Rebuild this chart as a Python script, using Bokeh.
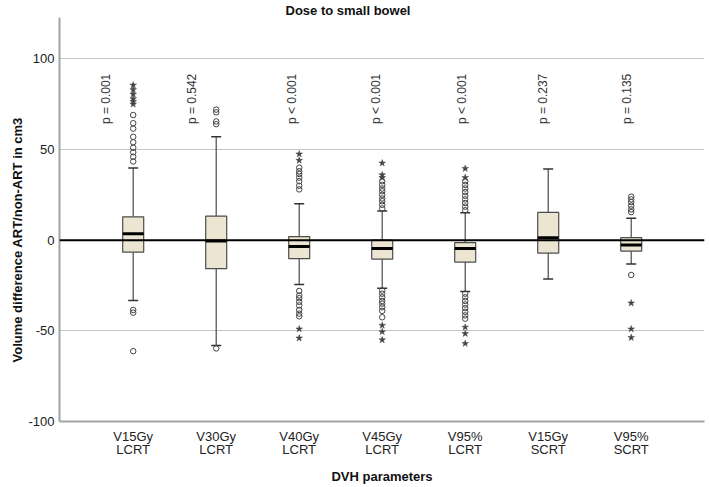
import math
from bokeh.plotting import figure
from bokeh.models import ColumnDataSource, FixedTicker, Span, Range1d, Title
from bokeh.embed import file_html
from bokeh.resources import INLINE
from bokeh.core.properties import value

# ---------------- data ----------------
categories = ["V15Gy\nLCRT", "V30Gy\nLCRT", "V40Gy\nLCRT", "V45Gy\nLCRT",
              "V95%\nLCRT", "V15Gy\nSCRT", "V95%\nSCRT"]
p_values = ["p = 0.001", "p = 0.542", "p < 0.001", "p < 0.001",
            "p < 0.001", "p = 0.237", "p = 0.135"]

lower_whisker = [-33.3, -58.1, -24.5, -26.5, -28.3, -21.4, -13.2]
q1 = [-6.6, -15.7, -10.2, -10.4, -12.1, -7.1, -6.0]
median = [3.6, -0.5, -3.5, -4.6, -4.6, 1.4, -2.6]
q3 = [12.9, 13.3, 2.0, 0.0, -1.3, 15.3, 1.4]
upper_whisker = [39.8, 57.1, 20.1, 16.1, 15.1, 39.2, 12.1]

outliers = [
    [43.4, 46.0, 48.5, 51.0, 54.0, 57.0, 61.5, 64.5, 69.0, -38.5, -40.0, -61.2],
    [64.0, 65.5, 70.5, 72.0, -59.7],
    [28.0, 30.0, 32.5, 34.5, 36.5, 38.0, 40.0,
     -28.0, -30.5, -32.0, -34.0, -36.0, -38.5, -40.5, -42.0],
    [17.5, 19.5, 21.5, 23.0, 25.0, 27.0, 28.5, 30.5, 32.5,
     -27.8, -29.5, -31.5, -33.5, -35.0, -37.0, -39.0, -42.5],
    [16.5, 18.5, 20.5, 22.5, 24.5, 26.5, 28.5, 30.5, 32.5,
     -29.5, -31.5, -33.5, -35.5, -37.5, -39.5, -41.5, -43.3],
    [],
    [15.5, 17.0, 19.0, 21.0, 22.5, 24.0, -19.2],
]
extremes = [
    [75.0, 76.5, 78.0, 80.5, 83.0, 85.5],
    [],
    [44.0, 47.5, -49.0, -54.0],
    [34.5, 36.0, 42.5, -47.0, -50.5, -55.0],
    [34.5, 39.5, -48.0, -51.5, -57.0],
    [],
    [-34.7, -49.0, -53.7],
]

y_ticks = [-100, -50, 0, 50, 100]
y_tick_labels = ["-100", "-50", "0", "50", "100"]

# ---------------- layout / style ----------------
FONT = "Liberation Sans"
BOX_W = 0.253
CAP_W = 0.12
p_shift = [-0.33, -0.29, -0.09, -0.07, -0.04, -0.06, -0.05]

xs = list(range(1, len(categories) + 1))

box_src = ColumnDataSource(dict(
    x=xs, q1=q1, q3=q3, med=median, lw=lower_whisker, uw=upper_whisker,
    xl=[x - BOX_W / 2 for x in xs], xr=[x + BOX_W / 2 for x in xs],
    cl=[x - CAP_W / 2 for x in xs], cr=[x + CAP_W / 2 for x in xs],
))

ox, oy, ex, ey = [], [], [], []
for x, outs, exts in zip(xs, outliers, extremes):
    ox += [x] * len(outs)
    oy += outs
    ex += [x] * len(exts)
    ey += exts
out_src = ColumnDataSource(dict(x=ox, y=oy))
ext_src = ColumnDataSource(dict(x=ex, y=ey))

txt_src = ColumnDataSource(dict(
    x=[x + s for x, s in zip(xs, p_shift)],
    y=[64.0] * len(xs),
    t=p_values,
))

p = figure(width=709, height=487,
           x_range=Range1d(0.112, 7.883), y_range=Range1d(-100, 122.8),
           output_backend="svg", toolbar_location=None,
           min_border_left=59, min_border_right=5,
           min_border_top=15, min_border_bottom=65)
p.outline_line_color = None
p.background_fill_color = "white"
p.border_fill_color = "white"

# title
p.title.text = "Dose to small bowel"
p.title.align = "left"
p.title.offset = 226
p.title.standoff = 0
p.title.text_font = FONT
p.title.text_font_size = "13px"
p.title.text_font_style = "bold"
p.title.text_color = "#111111"

# y axis title as a left-side title so it can be centred on the data range
ytitle = Title(text="Volume difference ART/non-ART in cm3", align="left", offset=59,
               text_font=FONT, text_font_size="13px", text_font_style="bold",
               text_color="#111111", standoff=1)
p.add_layout(ytitle, "left")

# grid
p.xgrid.visible = False
p.ygrid.ticker = FixedTicker(ticks=y_ticks)
p.ygrid.grid_line_color = "#c4c4c4"
p.ygrid.grid_line_width = 1

# axes
for ax in (p.xaxis[0], p.yaxis[0]):
    ax.axis_line_color = "#a3a3a3"
    ax.axis_line_width = 2
    ax.major_tick_line_color = None
    ax.minor_tick_line_color = None
    ax.major_tick_out = 0
    ax.major_tick_in = 0
    ax.major_label_text_font = FONT
    ax.major_label_text_font_size = "13px"
    ax.major_label_text_color = "#222222"
    ax.axis_label_text_font = FONT
    ax.axis_label_text_font_size = "13px"
    ax.axis_label_text_font_style = "bold"
    ax.axis_label_text_color = "#111111"

p.yaxis.ticker = FixedTicker(ticks=y_ticks)
p.yaxis.major_label_overrides = {t: s for t, s in zip(y_ticks, y_tick_labels)}
p.yaxis.major_label_standoff = 5
p.xaxis.ticker = FixedTicker(ticks=xs)
p.xaxis.major_label_overrides = {x: c for x, c in zip(xs, categories)}
p.xaxis.major_label_standoff = 7
p.xaxis.major_label_text_line_height = 0.9
p.xaxis.axis_label = "DVH parameters"
p.xaxis.axis_label_standoff = 9

# whiskers
p.segment(x0="x", y0="lw", x1="x", y1="q1", source=box_src, line_color="#4a4a4a", line_width=1.2)
p.segment(x0="x", y0="q3", x1="x", y1="uw", source=box_src, line_color="#4a4a4a", line_width=1.2)
p.segment(x0="cl", y0="lw", x1="cr", y1="lw", source=box_src, line_color="#333333", line_width=1.5)
p.segment(x0="cl", y0="uw", x1="cr", y1="uw", source=box_src, line_color="#333333", line_width=1.5)

# boxes
p.vbar(x="x", width=BOX_W, bottom="q1", top="q3", source=box_src,
       fill_color="#ece5d1", line_color="#4d4d4d", line_width=1.2)
# medians
p.segment(x0="xl", y0="med", x1="xr", y1="med", source=box_src,
          line_color="black", line_width=3)

# outliers
p.scatter(x="x", y="y", source=out_src, marker="circle", size=5.5,
          fill_color=None, line_color="#444444", line_width=1)
p.scatter(x="x", y="y", source=ext_src, marker="star", size=7,
          fill_color="#444444", line_color="#444444", line_width=0.5)

# zero reference line
p.add_layout(Span(location=0, dimension="width", line_color="black", line_width=2))

# p-value labels
p.text(x="x", y="y", text="t", source=txt_src, angle=math.pi / 2,
       text_align="left", text_baseline="middle",
       text_font=value(FONT), text_font_size="12px", text_color="#333333")

open("out.html", "w").write(file_html(p, INLINE))
